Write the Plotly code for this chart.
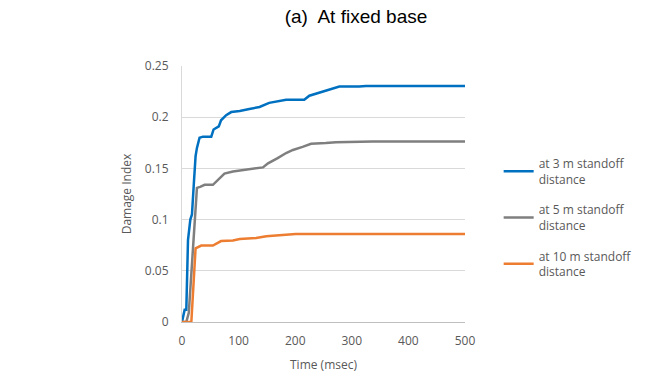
import plotly.graph_objects as go

# Damage index time histories at fixed base, for three standoff distances
t_3m = [0, 4.7, 7.6, 10.6, 14.7, 17.6, 21, 24, 26.4, 31, 37, 51.7, 55.8, 65, 69, 78, 87, 102,
        119, 137, 154, 184, 201, 216, 225, 237, 260, 278, 313, 325, 500]
di_3m = [0, 0.012, 0.012, 0.08, 0.1, 0.105, 0.136, 0.162, 0.17, 0.18, 0.181, 0.181, 0.188,
         0.191, 0.197, 0.202, 0.205, 0.206, 0.208, 0.21, 0.214, 0.217, 0.217, 0.217, 0.221,
         0.223, 0.227, 0.23, 0.23, 0.2305, 0.2305]

t_5m = [0, 7.6, 12, 16.5, 22, 26.4, 32, 40, 54.6, 60.5, 67.6, 75, 90, 113, 143, 152, 160, 169,
        184, 196, 213, 228, 254, 272, 337, 500]
di_5m = [0, 0, 0.009, 0.051, 0.097, 0.131, 0.132, 0.134, 0.134, 0.137, 0.141, 0.145, 0.147,
         0.149, 0.151, 0.155, 0.157, 0.16, 0.165, 0.168, 0.171, 0.174, 0.1747, 0.1756, 0.1763,
         0.1763]

t_10m = [0, 16.5, 24, 34, 54.6, 69, 90, 102, 131, 149, 166, 184, 201, 500]
di_10m = [0, 0, 0.072, 0.0747, 0.0747, 0.079, 0.0795, 0.081, 0.082, 0.0838, 0.0844, 0.0854,
          0.086, 0.086]

series_names = ["at 3 m standoff<br>distance", "at 5 m standoff<br>distance",
                "at 10 m standoff<br>distance"]
colors = ["#0070C0", "#7F7F7F", "#ED7D31"]

x_ticks = [0, 100, 200, 300, 400, 500]
y_ticks = [0, 0.05, 0.1, 0.15, 0.2, 0.25]

fig = go.Figure()
for i, (tx, dy, name, c) in enumerate(zip([t_3m, t_5m, t_10m], [di_3m, di_5m, di_10m],
                                          series_names, colors)):
    fig.add_trace(go.Scatter(x=tx, y=dy, mode="lines", name=name, legendgroup=f"g{i}",
                             line=dict(color=c, width=2.5)))

axis_font = dict(family="Open Sans, sans-serif", size=12, color="#595959")

fig.update_layout(
    width=648, height=379,
    paper_bgcolor="white", plot_bgcolor="white",
    margin=dict(l=182, r=182, t=66, b=57),
    title=dict(text="(a)  At fixed base", x=356 / 648, xanchor="center", y=1 - 16 / 379,
               yanchor="middle", font=dict(family="Liberation Sans, Arial", size=19, color="#000")),
    font=axis_font,
    showlegend=True,
    legend=dict(x=1.115, y=0.675, xanchor="left", yanchor="top", font=axis_font,
                bgcolor="rgba(0,0,0,0)", traceorder="grouped", tracegroupgap=12),
    xaxis=dict(range=[0, 500], tickvals=x_ticks, showgrid=False, zeroline=False,
               showline=True, linecolor="#BFBFBF", linewidth=1, ticks="",
               ticklabelstandoff=8, automargin=False,
               title=dict(text="Time (msec)", font=axis_font, standoff=12)),
    yaxis=dict(range=[0, 0.25], tickvals=y_ticks, showgrid=True, gridcolor="#D9D9D9",
               gridwidth=1, zeroline=False, showline=True, linecolor="#D9D9D9", ticks="",
               ticklabelstandoff=10, automargin=False,
               title=dict(text="Damage Index", font=axis_font, standoff=10)),
)

fig.write_html("out.html")
